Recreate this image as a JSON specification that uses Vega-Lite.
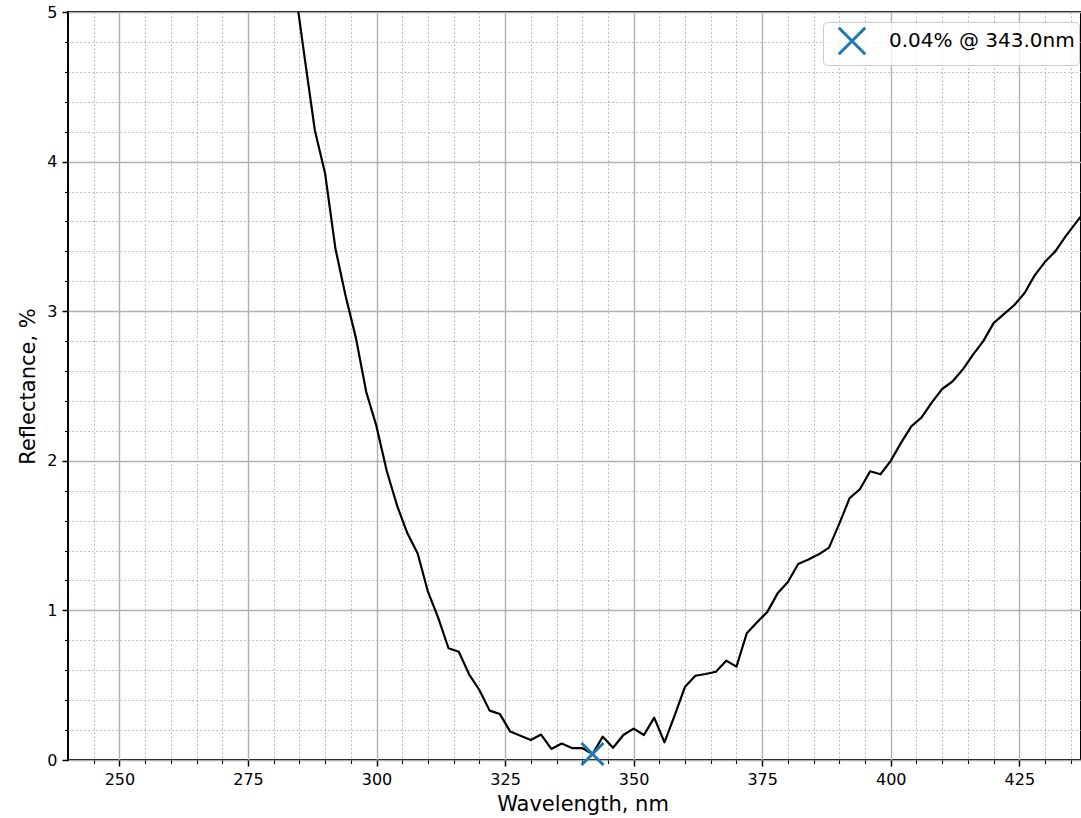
{
  "$schema": "https://vega.github.io/schema/vega-lite/v6.json",
  "width": 1013,
  "height": 748,
  "autosize": {"type": "none"},
  "padding": {"left": 68, "top": 12, "right": 0, "bottom": 58},
  "background": "white",
  "config": {
    "font": "DejaVu Sans",
    "view": {"stroke": "black", "strokeWidth": 2},
    "axis": {"labelFont": "DejaVu Sans", "titleFont": "DejaVu Sans", "labelOverlap": false, "labelBound": false}
  },
  "datasets": {
    "spectrum": [
      {"wl": 284, "r": 5.2}, {"wl": 286, "r": 4.7}, {"wl": 288, "r": 4.21}, {"wl": 290, "r": 3.92},
      {"wl": 292, "r": 3.42}, {"wl": 294, "r": 3.1}, {"wl": 296, "r": 2.82}, {"wl": 298, "r": 2.46},
      {"wl": 300, "r": 2.23}, {"wl": 302, "r": 1.93}, {"wl": 304, "r": 1.7}, {"wl": 306, "r": 1.515},
      {"wl": 308, "r": 1.38}, {"wl": 310, "r": 1.125}, {"wl": 312, "r": 0.95}, {"wl": 314, "r": 0.747},
      {"wl": 316, "r": 0.724}, {"wl": 318, "r": 0.573}, {"wl": 320, "r": 0.468}, {"wl": 322, "r": 0.33},
      {"wl": 324, "r": 0.307}, {"wl": 326, "r": 0.19}, {"wl": 328, "r": 0.162}, {"wl": 330, "r": 0.134},
      {"wl": 332, "r": 0.17}, {"wl": 334, "r": 0.074}, {"wl": 336, "r": 0.11}, {"wl": 338, "r": 0.08},
      {"wl": 340, "r": 0.08}, {"wl": 342, "r": 0.04}, {"wl": 344, "r": 0.156}, {"wl": 346, "r": 0.082},
      {"wl": 348, "r": 0.167}, {"wl": 350, "r": 0.21}, {"wl": 352, "r": 0.167}, {"wl": 354, "r": 0.283},
      {"wl": 356, "r": 0.118}, {"wl": 358, "r": 0.3}, {"wl": 360, "r": 0.49}, {"wl": 362, "r": 0.563},
      {"wl": 364, "r": 0.575}, {"wl": 366, "r": 0.59}, {"wl": 368, "r": 0.664}, {"wl": 370, "r": 0.624},
      {"wl": 372, "r": 0.847}, {"wl": 374, "r": 0.92}, {"wl": 376, "r": 0.99}, {"wl": 378, "r": 1.114},
      {"wl": 380, "r": 1.19}, {"wl": 382, "r": 1.31}, {"wl": 384, "r": 1.34}, {"wl": 386, "r": 1.375},
      {"wl": 388, "r": 1.42}, {"wl": 390, "r": 1.58}, {"wl": 392, "r": 1.75}, {"wl": 394, "r": 1.81},
      {"wl": 396, "r": 1.93}, {"wl": 398, "r": 1.91}, {"wl": 400, "r": 2.0}, {"wl": 402, "r": 2.12},
      {"wl": 404, "r": 2.23}, {"wl": 406, "r": 2.29}, {"wl": 408, "r": 2.39}, {"wl": 410, "r": 2.48},
      {"wl": 412, "r": 2.53}, {"wl": 414, "r": 2.61}, {"wl": 416, "r": 2.71}, {"wl": 418, "r": 2.8},
      {"wl": 420, "r": 2.92}, {"wl": 422, "r": 2.98}, {"wl": 424, "r": 3.04}, {"wl": 426, "r": 3.12},
      {"wl": 428, "r": 3.24}, {"wl": 430, "r": 3.33}, {"wl": 432, "r": 3.4}, {"wl": 434, "r": 3.5},
      {"wl": 436, "r": 3.59}, {"wl": 438, "r": 3.68}
    ],
    "minimum": [
      {"wl": 342, "r": 0.04, "label": "0.04% @ 343.0nm"}
    ]
  },
  "layer": [
    {
      "data": {"name": "spectrum"},
      "mark": {"type": "line", "color": "black", "strokeWidth": 2.2, "clip": true, "strokeJoin": "round"},
      "encoding": {
        "x": {
          "field": "wl", "type": "quantitative",
          "scale": {"domain": [240, 437], "nice": false, "zero": false},
          "axis": {
            "values": [245, 250, 255, 260, 265, 270, 275, 280, 285, 290, 295, 300, 305, 310, 315, 320, 325, 330, 335, 340, 345, 350, 355, 360, 365, 370, 375, 380, 385, 390, 395, 400, 405, 410, 415, 420, 425, 430, 435],
            "tickCount": 200,
            "labelExpr": "datum.value % 25 === 0 ? datum.label : ''",
            "labelOverlap": false,
            "labelFlush": false,
            "labelFontSize": 16,
            "labelColor": "black",
            "labelPadding": 5,
            "domain": false,
            "tickColor": "black",
            "tickWidth": {"condition": {"test": "datum.value % 25 === 0", "value": 1.5}, "value": 1.1},
            "tickSize": {"condition": {"test": "datum.value % 25 === 0", "value": 6}, "value": 3.5},
            "grid": true,
            "gridColor": "#b0b0b0",
            "gridWidth": {"condition": {"test": "datum.value % 25 === 0", "value": 1.4}, "value": 1},
            "gridDash": {"condition": {"test": "datum.value % 25 === 0", "value": []}, "value": [1.5, 2.5]},
            "title": "Wavelength, nm",
            "titleFontSize": 21,
            "titleFontWeight": "normal",
            "titleColor": "black",
            "titlePadding": 6,
            "titleX": 514.5
          }
        },
        "y": {
          "field": "r", "type": "quantitative",
          "scale": {"domain": [0, 5], "nice": false},
          "axis": {
            "values": [0, 0.2, 0.4, 0.6, 0.8, 1, 1.2, 1.4, 1.6, 1.8, 2, 2.2, 2.4, 2.6, 2.8, 3, 3.2, 3.4, 3.6, 3.8, 4, 4.2, 4.4, 4.6, 4.8, 5],
            "tickCount": 200,
            "labelExpr": "abs(datum.value - round(datum.value)) < 0.001 ? format(datum.value, 'd') : ''",
            "labelOverlap": false,
            "labelFlush": false,
            "labelFontSize": 16,
            "labelColor": "black",
            "labelPadding": 5,
            "domain": false,
            "tickColor": "black",
            "tickWidth": {"condition": {"test": "abs(datum.value - round(datum.value)) < 0.001", "value": 1.5}, "value": 1.1},
            "tickSize": {"condition": {"test": "abs(datum.value - round(datum.value)) < 0.001", "value": 6}, "value": 3.5},
            "grid": true,
            "gridColor": "#b0b0b0",
            "gridWidth": {"condition": {"test": "abs(datum.value - round(datum.value)) < 0.001", "value": 1.4}, "value": 1},
            "gridDash": {"condition": {"test": "abs(datum.value - round(datum.value)) < 0.001", "value": []}, "value": [1.5, 2.5]},
            "title": "Reflectance, %",
            "titleFontSize": 21,
            "titleFontWeight": "normal",
            "titleColor": "black",
            "titlePadding": 8
          }
        }
      }
    },
    {
      "data": {"name": "minimum"},
      "mark": {"type": "point", "filled": false, "strokeWidth": 3, "color": "#1f77b4", "opacity": 1, "size": 484},
      "encoding": {
        "x": {"field": "wl", "type": "quantitative"},
        "y": {"field": "r", "type": "quantitative"},
        "shape": {
          "field": "label", "type": "nominal",
          "scale": {"range": ["M-1,-1L1,1M1,-1L-1,1"]},
          "legend": {
            "orient": "none",
            "legendX": 755,
            "legendY": 10,
            "title": null,
            "padding": 4,
            "symbolSize": 700,
            "symbolStrokeColor": "#1f77b4",
            "symbolStrokeWidth": 3,
            "symbolFillColor": "transparent",
            "symbolOffset": 10,
            "labelOffset": 22,
            "labelFontSize": 20,
            "labelFont": "DejaVu Sans",
            "labelColor": "black",
            "labelLimit": 0,
            "strokeColor": "#cccccc",
            "fillColor": "rgba(255,255,255,0.8)",
            "cornerRadius": 4
          }
        }
      }
    }
  ]
}
